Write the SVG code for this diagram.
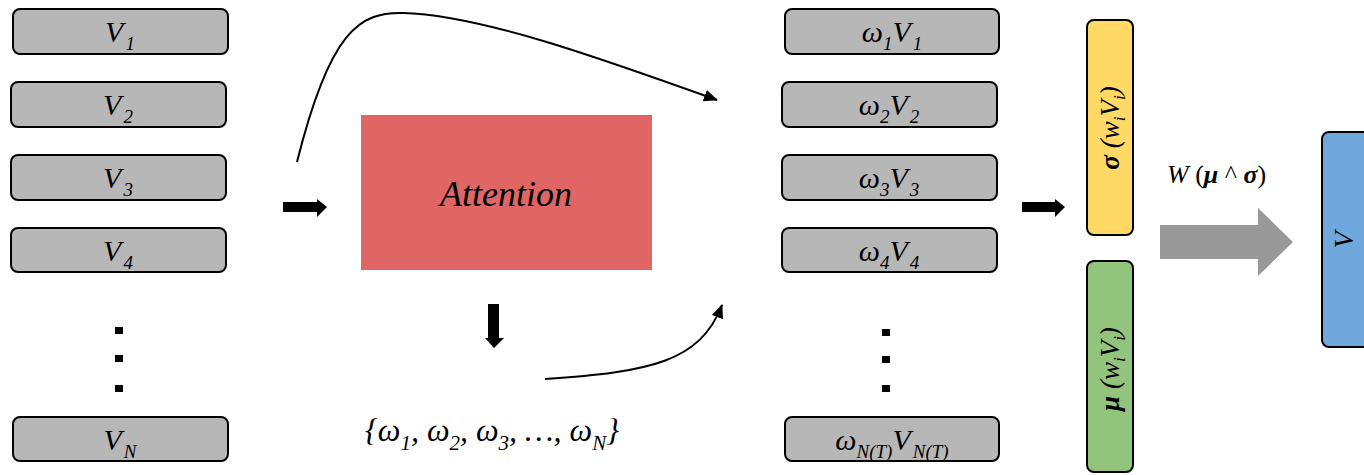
<svg xmlns="http://www.w3.org/2000/svg" width="1364" height="475" viewBox="0 0 1364 475">
<defs>
<style>
.box{fill:#B7B7B7;stroke:#000;stroke-width:2}
.lbl{font-family:"Times New Roman","Liberation Serif","DejaVu Serif",serif;font-style:italic;font-size:30px;fill:#000}
.sub{font-size:19px}
.dot{fill:#000}
.conn{fill:none;stroke:#000;stroke-width:2}
.fat{fill:#000}
</style>
<marker id="ah" markerUnits="userSpaceOnUse" markerWidth="14" markerHeight="12" refX="13" refY="6" orient="auto">
<path d="M0,0 L14,6 L0,12 Z" fill="#000"/>
</marker>
</defs>
<rect width="1364" height="475" fill="#fff"/>

<g id="v1"><rect class="box" x="13" y="9" width="215" height="45" rx="7"/><text class="lbl" x="120" y="42" text-anchor="middle">V<tspan class="sub" dy="8" dx="2">1</tspan></text></g>
<g id="v2"><rect class="box" x="11" y="82" width="215" height="45" rx="7"/><text class="lbl" x="118" y="115" text-anchor="middle">V<tspan class="sub" dy="8" dx="2">2</tspan></text></g>
<g id="v3"><rect class="box" x="11" y="155" width="215" height="45" rx="7"/><text class="lbl" x="118" y="188" text-anchor="middle">V<tspan class="sub" dy="8" dx="2">3</tspan></text></g>
<g id="v4"><rect class="box" x="11" y="228" width="215" height="44" rx="7"/><text class="lbl" x="118" y="261" text-anchor="middle">V<tspan class="sub" dy="8" dx="2">4</tspan></text></g>
<g id="vdots"><rect class="dot" x="115" y="327" width="8" height="7"/><rect class="dot" x="115" y="355" width="8" height="7"/><rect class="dot" x="115" y="385" width="8" height="7"/></g>
<g id="vN"><rect class="box" x="13" y="417" width="215" height="44" rx="7"/><text class="lbl" x="120" y="450" text-anchor="middle">V<tspan class="sub" dy="8" dx="2">N</tspan></text></g>

<g id="attention"><rect x="361" y="115" width="291" height="155" fill="#E06666"/><text class="lbl" x="506" y="206" text-anchor="middle" style="font-size:36px">Attention</text></g>

<g id="weights"><text class="lbl" x="492" y="441" text-anchor="middle" style="font-size:32px">{ω<tspan style="font-size:21px" dy="9">1</tspan><tspan dy="-9">, ω</tspan><tspan style="font-size:21px" dy="9">2</tspan><tspan dy="-9">, ω</tspan><tspan style="font-size:21px" dy="9">3</tspan><tspan dy="-9">, …, ω</tspan><tspan style="font-size:21px" dy="9">N</tspan><tspan dy="-9">}</tspan></text></g>

<g id="w1"><rect class="box" x="785" y="9" width="214" height="45" rx="7"/><text class="lbl" x="892" y="42" text-anchor="middle">ω<tspan class="sub" dy="8">1</tspan><tspan dy="-8">V</tspan><tspan class="sub" dy="8" dx="2">1</tspan></text></g>
<g id="w2"><rect class="box" x="782" y="82" width="215" height="45" rx="7"/><text class="lbl" x="889" y="115" text-anchor="middle">ω<tspan class="sub" dy="8">2</tspan><tspan dy="-8">V</tspan><tspan class="sub" dy="8" dx="2">2</tspan></text></g>
<g id="w3"><rect class="box" x="782" y="155" width="215" height="45" rx="7"/><text class="lbl" x="889" y="188" text-anchor="middle">ω<tspan class="sub" dy="8">3</tspan><tspan dy="-8">V</tspan><tspan class="sub" dy="8" dx="2">3</tspan></text></g>
<g id="w4"><rect class="box" x="782" y="228" width="215" height="44" rx="7"/><text class="lbl" x="889" y="261" text-anchor="middle">ω<tspan class="sub" dy="8">4</tspan><tspan dy="-8">V</tspan><tspan class="sub" dy="8" dx="2">4</tspan></text></g>
<g id="wdots"><rect class="dot" x="882" y="329" width="8" height="7"/><rect class="dot" x="882" y="356" width="8" height="7"/><rect class="dot" x="882" y="385" width="8" height="7"/></g>
<g id="wN"><rect class="box" x="785" y="417" width="214" height="44" rx="7"/><text class="lbl" x="892" y="450" text-anchor="middle">ω<tspan class="sub" dy="8">N(T)</tspan><tspan dy="-8">V</tspan><tspan class="sub" dy="8" dx="2">N(T)</tspan></text></g>

<g id="sigma"><rect x="1087" y="20" width="46" height="215" rx="7" fill="#FFD966" stroke="#000" stroke-width="2"/><text class="lbl" transform="translate(1119,128) rotate(-90)" text-anchor="middle" style="font-size:27px"><tspan font-weight="bold">σ</tspan> (w<tspan style="font-size:17px" dy="6">i</tspan><tspan dy="-6">V</tspan><tspan style="font-size:17px" dy="6">i</tspan><tspan dy="-6">)</tspan></text></g>
<g id="mu"><rect x="1087" y="261" width="46" height="211" rx="7" fill="#93C47D" stroke="#000" stroke-width="2"/><text class="lbl" transform="translate(1119,369) rotate(-90)" text-anchor="middle" style="font-size:27px"><tspan font-weight="bold">μ</tspan> (w<tspan style="font-size:17px" dy="6">i</tspan><tspan dy="-6">V</tspan><tspan style="font-size:17px" dy="6">i</tspan><tspan dy="-6">)</tspan></text></g>

<g id="v"><rect x="1322" y="132" width="50" height="215" rx="7" fill="#6FA8DC" stroke="#000" stroke-width="2"/><text class="lbl" transform="translate(1353,240) rotate(-90)" text-anchor="middle" style="font-size:28px">V</text></g>

<g id="connectors">
<path class="conn" d="M297,162 C330,30 360,12 403,13 C480,15 600,58 717,100" marker-end="url(#ah)"/>
<path class="conn" d="M545,379 C650,372 700,362 722,305" marker-end="url(#ah)"/>
<path class="fat" d="M283,202 H317 V199 L327,207 L317,217 V212 H283 Z"/>
<path class="fat" d="M488,304 H499 V338 H504 L494,348 L485,338 H488 Z"/>
<path class="fat" d="M1022,202 H1055 V199 L1065,207 L1055,217 V212 H1022 Z"/>
<path d="M1160,225 H1258 V208 L1293,242 L1258,276 V259 H1160 Z" fill="#999999"/>
<text class="lbl" x="1167" y="183" style="font-size:26px">W <tspan font-style="normal">(</tspan><tspan font-weight="bold">μ</tspan><tspan font-style="normal"> ^ </tspan><tspan font-weight="bold">σ</tspan><tspan font-style="normal">)</tspan></text>
</g>
</svg>
